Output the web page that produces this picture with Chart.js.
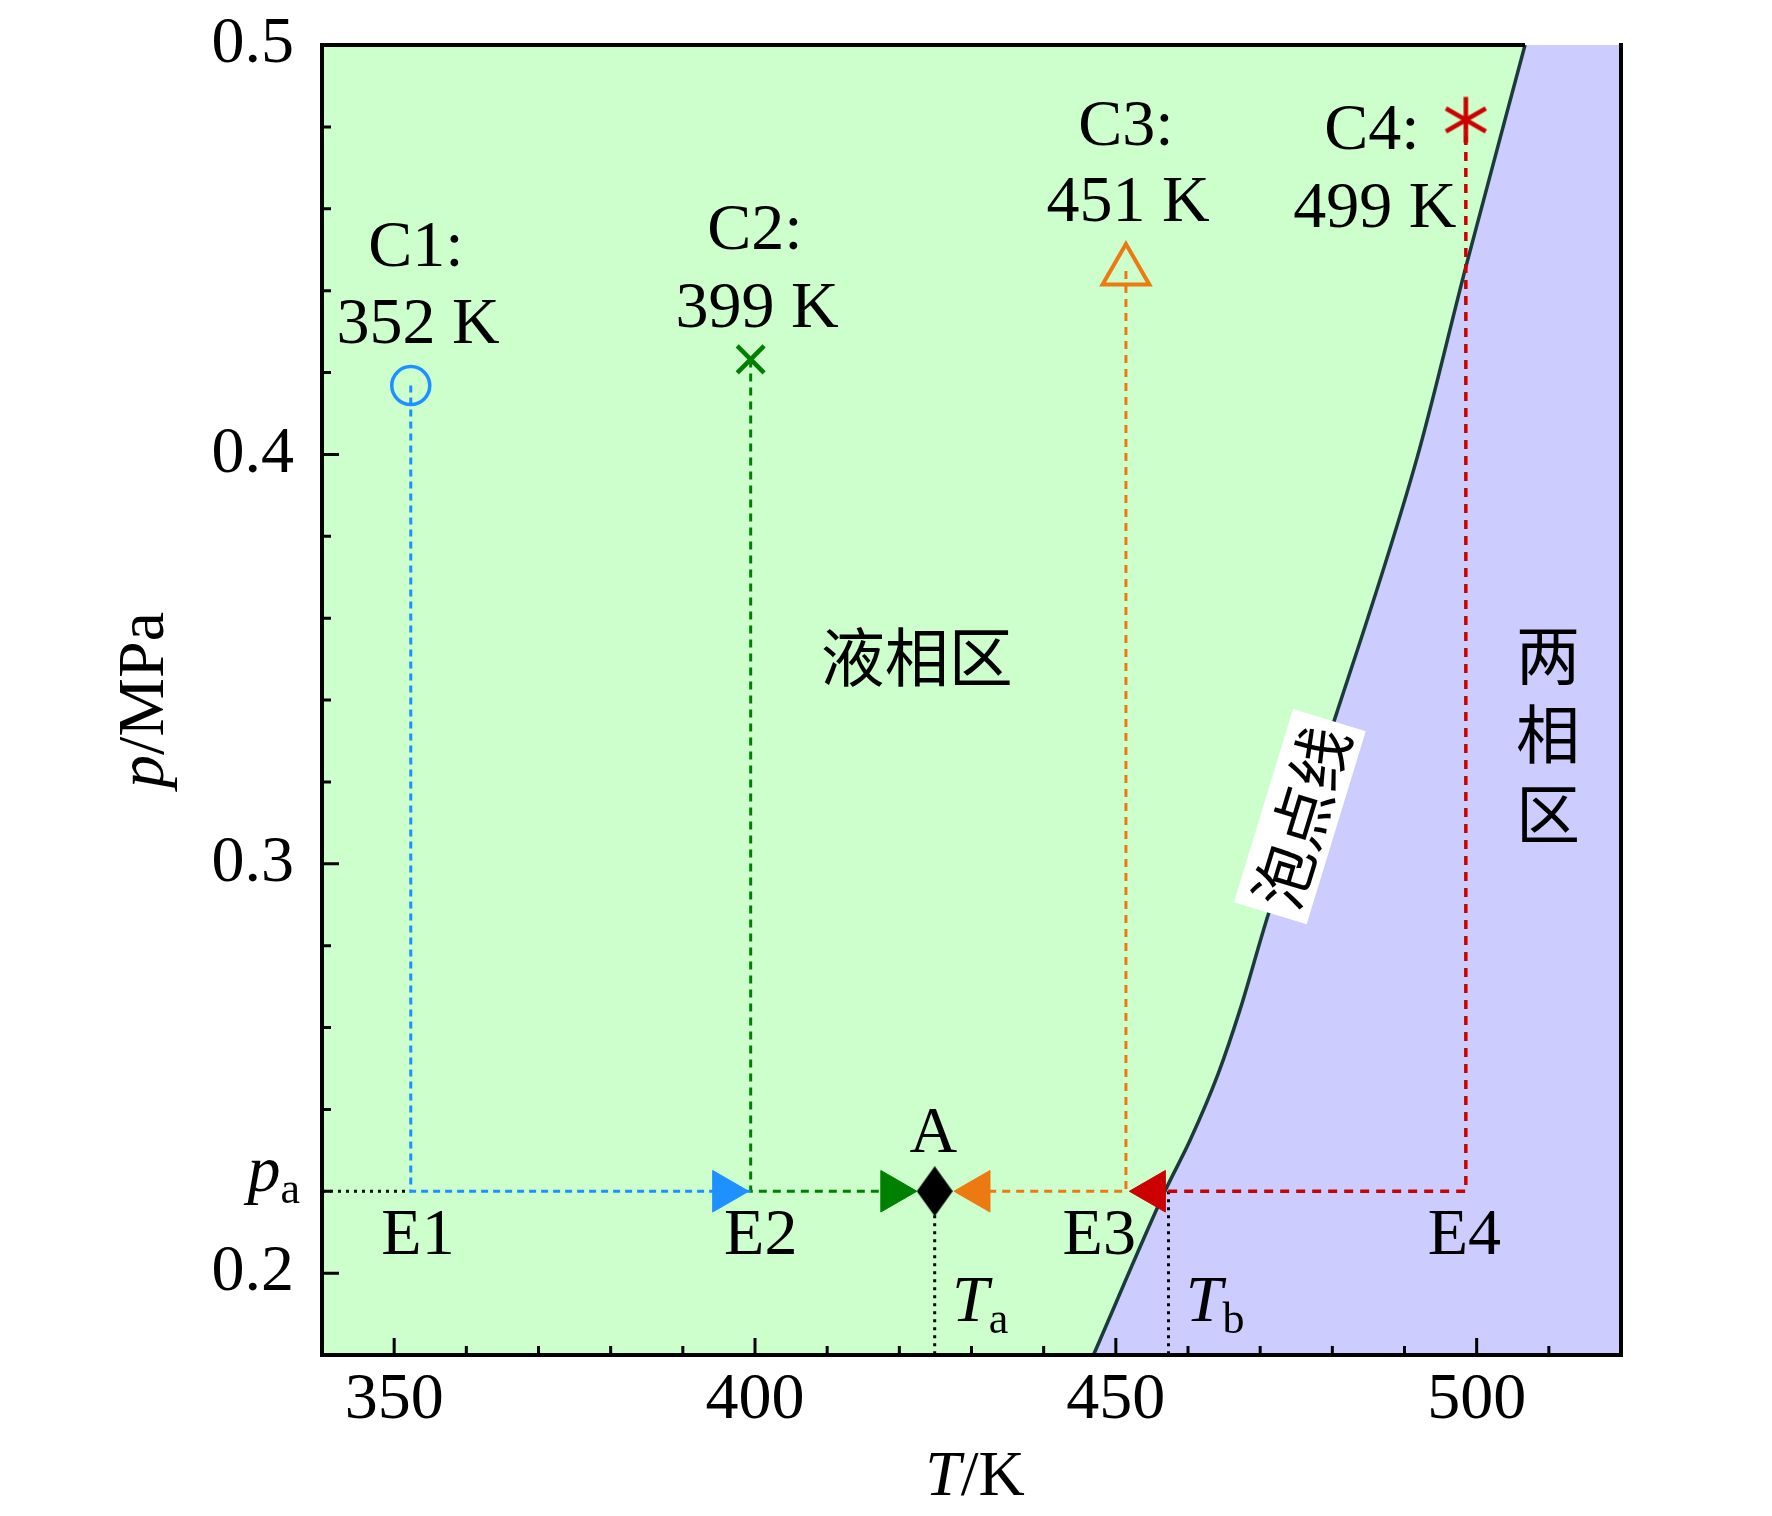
<!DOCTYPE html>
<html>
<head>
<meta charset="utf-8">
<title>p-T 相图</title>
<script src="https://cdn.jsdelivr.net/npm/chart.js@4.4.1/dist/chart.umd.min.js"></script>
<style>
  html, body { margin: 0; padding: 0; background: #fff; }
  canvas { display: block; }
</style>
</head>
<body>
<canvas id="chart" width="1772" height="1516"></canvas>
<script>
// axis ranges and tick steps
const xMin = 340, xMax = 520, xStep = 50, xMinor = 10;
const yMin = 0.18, yMax = 0.5, yStep = 0.1, yMinor = 0.02;

// bubble point curve (T/K, p/MPa)
const curveT = [446.9, 456.8, 460.3, 464.2, 467.2, 471.1, 480.6, 491.7, 498.5, 506.7];
const curveP = [0.180, 0.220, 0.2325, 0.2488, 0.2643, 0.2875, 0.3368, 0.3989, 0.4458, 0.500];

// start points C1..C4
const cNames = ['C1:', 'C2:', 'C3:', 'C4:'];
const cTemps = ['352 K', '399 K', '451 K', '499 K'];
const cT = [352.3, 399.4, 451.4, 498.5];
const cP = [0.4168, 0.4232, 0.4448, 0.4817];
const cColors = ['#1e90ff', '#008000', '#ec7a10', '#cc0000'];

// pressure p_a, end of each path and arrow heads
const pa = 0.22;
const pathEndT = [399.4, 419.1, 430.9, 455.2];
const arrowT = [395.8, 419.1, 430.9, 455.2];
const arrowRot = [90, 90, -90, -90];

// point A and T_b
const aT = 424.9;
const tbT = 457.3;

const serif = '"Liberation Serif", "Times New Roman", serif';
const cjk = '"Noto Sans CJK SC", "Noto Sans CJK JP", sans-serif';

// text labels in data coords
const labels = [
    { t: cNames[0], x: 353.0, y: 0.4514 }, { t: cTemps[0], x: 353.3, y: 0.4327 },
    { t: cNames[1], x: 400.0, y: 0.4555 }, { t: cTemps[1], x: 400.3, y: 0.4364 },
    { t: cNames[2], x: 451.4, y: 0.4809 }, { t: cTemps[2], x: 451.7, y: 0.4624 },
    { t: cNames[3], x: 485.5, y: 0.4800 }, { t: cTemps[3], x: 485.9, y: 0.4610 },
    { t: 'A', x: 424.7, y: 0.2350 },
    { t: 'E1', x: 353.3, y: 0.2100 }, { t: 'E2', x: 400.8, y: 0.2100 },
    { t: 'E3', x: 447.7, y: 0.2100 }, { t: 'E4', x: 498.3, y: 0.2100 }
];

function pts(xs, ys) {
    return xs.map((x, i) => ({ x: x, y: ys[i] }));
}

function makeAsterisk(r, color, lw) {
    const c = document.createElement('canvas');
    const s = Math.ceil(2 * r + lw * 2);
    c.width = c.height = s;
    const g = c.getContext('2d');
    g.translate(s / 2, s / 2);
    g.strokeStyle = color;
    g.lineWidth = lw;
    for (let k = 0; k < 3; k++) {
        const a = Math.PI / 2 + k * Math.PI / 3;
        g.beginPath();
        g.moveTo(Math.cos(a) * r, Math.sin(a) * r);
        g.lineTo(-Math.cos(a) * r, -Math.sin(a) * r);
        g.stroke();
    }
    return c;
}

function makeDiamond(w, h, color) {
    const c = document.createElement('canvas');
    c.width = w; c.height = h;
    const g = c.getContext('2d');
    g.fillStyle = color;
    g.beginPath();
    g.moveTo(w / 2, 0); g.lineTo(w, h / 2); g.lineTo(w / 2, h); g.lineTo(0, h / 2);
    g.closePath();
    g.fill();
    return c;
}

// path C -> E -> arrow for each case
function pathData(i) {
    return [{ x: cT[i], y: cP[i] }, { x: cT[i], y: pa }, { x: pathEndT[i], y: pa }];
}

function dashed(i, width, dash) {
    return {
        data: pathData(i), showLine: true, borderColor: cColors[i], borderWidth: width,
        borderDash: dash, pointRadius: 0, fill: false, order: 5
    };
}

function dotted(data) {
    return {
        data: data, showLine: true, borderColor: '#000', borderWidth: 3,
        borderDash: [3, 5], pointRadius: 0, fill: false, order: 5
    };
}

function font(size, italic) {
    return (italic ? 'italic ' : '') + size + 'px ' + serif;
}

// draws a row of text parts with different styles
function richText(ctx, parts, x, y, align) {
    let w = 0;
    parts.forEach(p => { ctx.font = font(p.s, p.i); p.w = ctx.measureText(p.t).width; w += p.w; });
    let cx = align === 'center' ? x - w / 2 : align === 'right' ? x - w : x;
    ctx.textAlign = 'left';
    ctx.textBaseline = 'alphabetic';
    parts.forEach(p => {
        ctx.font = font(p.s, p.i);
        ctx.fillText(p.t, cx, y + (p.dy || 0));
        cx += p.w;
    });
}

const decor = {
    id: 'decor',
    beforeDraw(chart) {
        const { ctx, chartArea: a } = chart;
        ctx.save();
        ctx.fillStyle = '#ccffcc';
        ctx.fillRect(a.left, a.top, a.right - a.left, a.bottom - a.top);
        ctx.restore();
    },
    afterDatasetsDraw(chart) {
        const { ctx, chartArea: a } = chart;
        const xs = chart.scales.x, ys = chart.scales.y;
        ctx.save();
        ctx.fillStyle = '#000';

        labels.forEach(l => {
            richText(ctx, [{ t: l.t, s: 66 }], xs.getPixelForValue(l.x), ys.getPixelForValue(l.y) + 22, 'center');
        });

        // T_a, T_b
        const base = ys.getPixelForValue(0.1883);
        richText(ctx, [{ t: 'T', s: 66, i: true }, { t: 'a', s: 44, dy: 12 }], xs.getPixelForValue(427.3), base, 'left');
        richText(ctx, [{ t: 'T', s: 66, i: true }, { t: 'b', s: 44, dy: 12 }], xs.getPixelForValue(459.7), base, 'left');

        // region names
        ctx.font = '64px ' + cjk;
        ctx.textAlign = 'center';
        ctx.textBaseline = 'middle';
        ctx.fillText('液相区', xs.getPixelForValue(422.4), ys.getPixelForValue(0.3507));
        const twoPhase = ['两', '相', '区'];
        const tpY = [0.3510, 0.3317, 0.3123];
        twoPhase.forEach((ch, i) => ctx.fillText(ch, xs.getPixelForValue(509.9), ys.getPixelForValue(tpY[i])));

        // bubble line label
        ctx.save();
        ctx.translate(xs.getPixelForValue(475.5), ys.getPixelForValue(0.3115));
        ctx.rotate(-73 * Math.PI / 180);
        ctx.fillStyle = '#fff';
        ctx.fillRect(-101, -38, 202, 76);
        ctx.fillStyle = '#000';
        ctx.font = '62px ' + cjk;
        ctx.fillText('泡点线', 0, 2);
        ctx.restore();

        // frame
        ctx.strokeStyle = '#000';
        ctx.lineWidth = 4;
        ctx.beginPath();
        ctx.moveTo(xs.getPixelForValue(curveT[curveT.length - 1]), a.top);
        ctx.lineTo(a.left, a.top);
        ctx.lineTo(a.left, a.bottom);
        ctx.lineTo(a.right, a.bottom);
        ctx.lineTo(a.right, a.top - 2);
        ctx.stroke();

        // inward ticks
        ctx.lineWidth = 3;
        ctx.beginPath();
        for (let v = xMin + xMinor; v < xMax - 1e-6; v += xMinor) {
            const px = xs.getPixelForValue(v);
            const len = Math.abs(v % xStep) < 1e-6 ? 17 : 9;
            ctx.moveTo(px, a.bottom);
            ctx.lineTo(px, a.bottom - len);
        }
        for (let k = 1; k * yMinor + yMin < yMax - 1e-6; k++) {
            const v = yMin + k * yMinor;
            const py = ys.getPixelForValue(v);
            const major = Math.abs(v / yStep - Math.round(v / yStep)) < 1e-6;
            ctx.moveTo(a.left, py);
            ctx.lineTo(a.left + (major ? 17 : 9), py);
        }
        ctx.stroke();

        // p_a label on the y axis
        richText(ctx, [{ t: 'p', s: 66, i: true }, { t: 'a', s: 44, dy: 12 }], 300, ys.getPixelForValue(pa), 'right');

        // axis titles
        richText(ctx, [{ t: 'T', s: 64, i: true }, { t: '/K', s: 64 }], 975, 1495, 'center');
        ctx.save();
        ctx.translate(163, 700);
        ctx.rotate(-Math.PI / 2);
        richText(ctx, [{ t: 'p', s: 66, i: true }, { t: '/MPa', s: 66 }], 0, 0, 'center');
        ctx.restore();

        ctx.restore();
    }
};

const curve = pts(curveT, curveP);

new Chart(document.getElementById('chart'), {
    type: 'scatter',
    data: {
        datasets: [
            // two-phase region under the bubble point curve
            {
                data: curve.concat([{ x: xMax, y: yMax }]), showLine: true, tension: 0,
                borderWidth: 0, pointRadius: 0, fill: 'start', backgroundColor: '#ccccff', order: 10
            },
            {
                data: curve, showLine: true, cubicInterpolationMode: 'monotone',
                borderColor: '#1b3a3a', borderWidth: 3.5, pointRadius: 0, fill: false, order: 8
            },
            dashed(0, 3, [7, 5]),
            dashed(1, 3, [8, 6]),
            dashed(2, 3, [8, 6]),
            dashed(3, 3.5, [9, 7]),
            dotted([{ x: xMin, y: pa }, { x: cT[0], y: pa }]),
            dotted([{ x: aT, y: pa }, { x: aT, y: yMin }]),
            dotted([{ x: tbT, y: pa }, { x: tbT, y: yMin }]),
            {
                data: [{ x: cT[0], y: cP[0] }], pointStyle: 'circle', pointRadius: 19,
                pointBorderWidth: 3.5, pointBorderColor: cColors[0], pointBackgroundColor: 'rgba(0,0,0,0)', order: 1
            },
            {
                data: [{ x: cT[1], y: cP[1] }], pointStyle: 'crossRot', pointRadius: 19,
                pointBorderWidth: 4.5, pointBorderColor: cColors[1], order: 1
            },
            {
                data: [{ x: cT[2], y: cP[2] }], pointStyle: 'triangle', pointRadius: 27,
                pointBorderWidth: 4, pointBorderColor: cColors[2], pointBackgroundColor: 'rgba(0,0,0,0)', order: 1
            },
            {
                data: [{ x: cT[3], y: cP[3] }], pointStyle: makeAsterisk(23, cColors[3], 4.5), order: 1
            },
            {
                data: arrowT.map(t => ({ x: t, y: pa })), pointStyle: 'triangle', pointRadius: 24,
                pointRotation: arrowRot, pointBackgroundColor: cColors, pointBorderColor: cColors,
                pointBorderWidth: 1, order: 2
            },
            {
                data: [{ x: aT, y: pa }], pointStyle: makeDiamond(36, 50, '#000'), order: 1
            }
        ]
    },
    options: {
        responsive: false,
        devicePixelRatio: 1,
        animation: false,
        events: [],
        layout: { padding: { left: 0, top: 45, right: 151, bottom: 0 } },
        plugins: { legend: { display: false }, tooltip: { enabled: false } },
        scales: {
            x: {
                type: 'linear', min: xMin, max: xMax,
                grid: { display: false, drawTicks: false },
                border: { display: false },
                ticks: {
                    stepSize: xStep, includeBounds: false, padding: 6, color: '#000',
                    font: { family: serif, size: 66 }, maxRotation: 0, autoSkip: false
                },
                afterFit: s => { s.height = 161; s.paddingLeft = 0; s.paddingRight = 0; }
            },
            y: {
                type: 'linear', min: yMin, max: yMax,
                grid: { display: false, drawTicks: false },
                border: { display: false },
                ticks: {
                    stepSize: yStep, includeBounds: false, padding: 28, color: '#000',
                    font: { family: serif, size: 66 },
                    callback: v => v.toFixed(1)
                },
                afterFit: s => { s.width = 322; s.paddingTop = 0; s.paddingBottom = 0; }
            }
        }
    },
    plugins: [decor]
});
</script>
</body>
</html>
